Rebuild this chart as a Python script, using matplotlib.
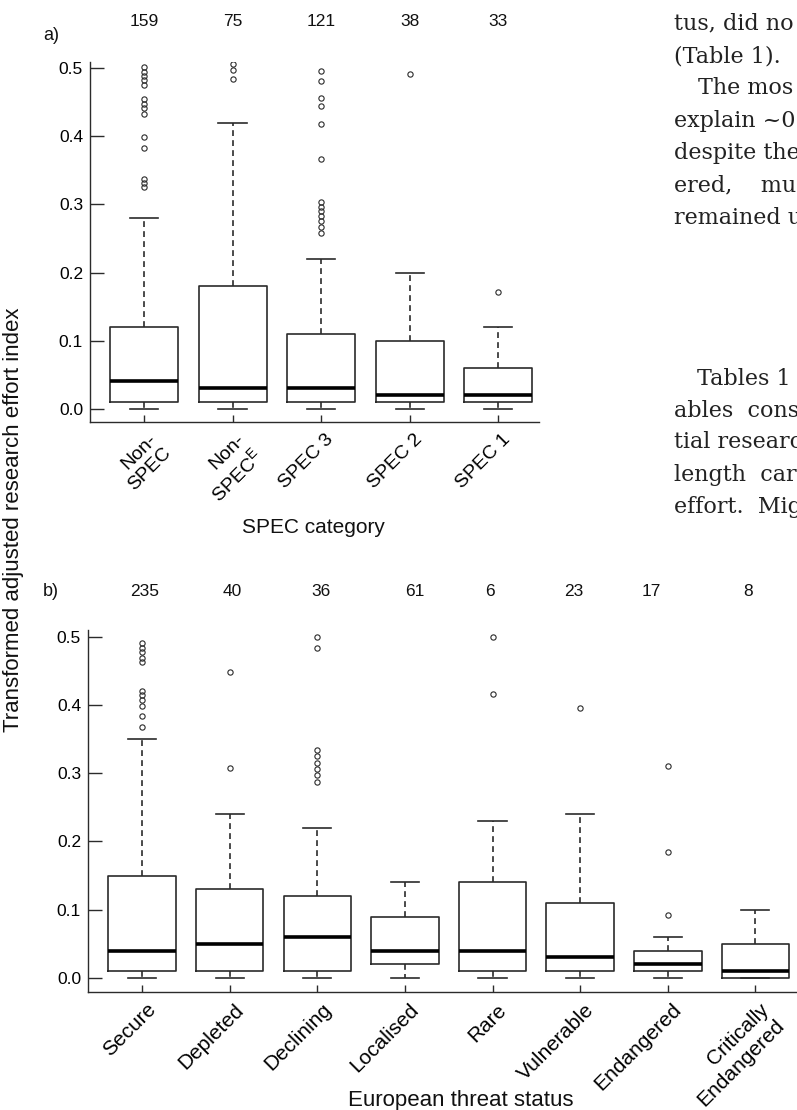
import numpy as np
import matplotlib
matplotlib.use("Agg")
import matplotlib.pyplot as plt
from matplotlib.transforms import ScaledTranslation

plt.rcParams['font.family'] = ['Liberation Sans', 'DejaVu Sans']
plt.rcParams['mathtext.fontset'] = 'custom'
plt.rcParams['mathtext.rm'] = 'Liberation Sans'
plt.rcParams['mathtext.it'] = 'Liberation Sans'

# a) research effort by SPEC category
spec_names = ['Non-\nSPEC', 'Non-\nSPEC$^{\\mathrm{E}}$', 'SPEC 3', 'SPEC 2', 'SPEC 1']
spec_n = [159, 75, 121, 38, 33]
spec_lo = [0.0, 0.0, 0.0, 0.0, 0.0]
spec_q1 = [0.01, 0.01, 0.01, 0.01, 0.01]
spec_med = [0.04, 0.03, 0.03, 0.02, 0.02]
spec_q3 = [0.12, 0.18, 0.11, 0.10, 0.06]
spec_hi = [0.28, 0.42, 0.22, 0.20, 0.12]
spec_out = [
    [0.502, 0.495, 0.489, 0.483, 0.476, 0.455, 0.448, 0.441, 0.433, 0.399, 0.383, 0.338, 0.332, 0.326],
    [0.506, 0.497, 0.484],
    [0.496, 0.482, 0.457, 0.444, 0.418, 0.367, 0.304, 0.297, 0.290, 0.283, 0.276, 0.267, 0.258],
    [0.492],
    [0.172],
]

# b) research effort by European threat status
threat_names = ['Secure', 'Depleted', 'Declining', 'Localised', 'Rare',
                'Vulnerable', 'Endangered', 'Critically\nEndangered']
threat_n = [235, 40, 36, 61, 6, 23, 17, 8]
threat_lo = [0.0, 0.0, 0.0, 0.0, 0.0, 0.0, 0.0, 0.0]
threat_q1 = [0.01, 0.01, 0.01, 0.02, 0.01, 0.01, 0.01, 0.0]
threat_med = [0.04, 0.05, 0.06, 0.04, 0.04, 0.03, 0.02, 0.01]
threat_q3 = [0.15, 0.13, 0.12, 0.09, 0.14, 0.11, 0.04, 0.05]
threat_hi = [0.35, 0.24, 0.22, 0.14, 0.23, 0.24, 0.06, 0.10]
threat_out = [
    [0.491, 0.484, 0.477, 0.469, 0.463, 0.421, 0.414, 0.407, 0.399, 0.384, 0.368],
    [0.448, 0.308],
    [0.499, 0.484, 0.334, 0.325, 0.315, 0.306, 0.297, 0.287],
    [],
    [0.500, 0.416],
    [0.395],
    [0.311, 0.184, 0.092],
    [],
]
# x shift of the sample-size labels in panel b (box units)
threat_n_shift = [0.03, 0.03, 0.04, 0.11, -0.03, -0.07, -0.19, -0.08]

W, H = 797, 1110
fig = plt.figure(figsize=(W / 100, H / 100), dpi=100)
ink = '#2b2b2b'


def px(x, y):
    return x / W, 1 - y / H


def panel(rect, names, n, lo, q1, med, q3, hi, out, xlim, tick_fs):
    ax = fig.add_axes(rect)
    stats = [dict(whislo=a, q1=b, med=c, q3=d, whishi=e, fliers=f)
             for a, b, c, d, e, f in zip(lo, q1, med, q3, hi, out)]
    pos = np.arange(1, len(names) + 1)
    ax.bxp(stats, positions=pos, widths=0.77, capwidths=0.32,
           boxprops=dict(color=ink, lw=1.2),
           medianprops=dict(color='black', lw=2.6, solid_capstyle='butt'),
           whiskerprops=dict(color=ink, lw=1.2, linestyle=(0, (3.5, 2.5))),
           capprops=dict(color=ink, lw=1.2),
           flierprops=dict(marker='o', markersize=3.8, markerfacecolor='none',
                           markeredgecolor=ink, markeredgewidth=0.8))
    ax.set_xlim(*xlim)
    ax.set_ylim(-0.02, 0.51)
    for s in ['top', 'right']:
        ax.spines[s].set_visible(False)
    for s in ['left', 'bottom']:
        ax.spines[s].set_color(ink)
        ax.spines[s].set_linewidth(1.0)
    ax.set_yticks(np.arange(0, 0.51, 0.1))
    ax.set_yticklabels([f'{v:.1f}' for v in np.arange(0, 0.51, 0.1)])
    ax.tick_params(axis='y', direction='in', length=10, width=1.0, color=ink,
                   pad=5, labelsize=12.5)
    ax.tick_params(axis='x', direction='in', length=5, width=1.0, color=ink,
                   pad=6, labelsize=tick_fs)
    ax.set_xticks(pos)
    ax.set_xticklabels(names, rotation=45, ha='right', va='top',
                       rotation_mode='anchor', multialignment='right')
    shift = ScaledTranslation(4 / 100, 0, fig.dpi_scale_trans)
    for lbl in ax.get_xticklabels():
        lbl.set_transform(lbl.get_transform() + shift)
    return ax, pos


ax_a, pos_a = panel([90 / W, 1 - 422.3 / H, 449 / W, 360.8 / H],
                    spec_names, spec_n, spec_lo, spec_q1, spec_med,
                    spec_q3, spec_hi, spec_out, (0.389, 5.46), 14)
for p, n in zip(pos_a, spec_n):
    ax_a.annotate(str(n), (p, px(0, 22)[1]), xycoords=('data', 'figure fraction'),
                  ha='center', va='center', fontsize=12.5, color='#111')

ax_b, pos_b = panel([88 / W, 1 - 991.6 / H, 720 / W, 361.7 / H],
                    threat_names, threat_n, threat_lo, threat_q1, threat_med,
                    threat_q3, threat_hi, threat_out, (0.384, 8.6), 15)
for p, n, s in zip(pos_b, threat_n, threat_n_shift):
    ax_b.annotate(str(n), (p + s, px(0, 591)[1]), xycoords=('data', 'figure fraction'),
                  ha='center', va='center', fontsize=12.5, color='#111')

fig.text(*px(43, 35.5), 'a)', fontsize=13, ha='left', va='center', color='#111')
fig.text(*px(43, 591), 'b)', fontsize=13, ha='left', va='center', color='#111')
fig.text(*px(313, 533), 'SPEC category', fontsize=15, ha='center', va='baseline', color='#111')
fig.text(*px(461, 1106), 'European threat status', fontsize=16, ha='center',
         va='baseline', color='#111')
fig.text(*px(14, 520), 'Transformed adjusted research effort index', fontsize=16,
         rotation=90, ha='center', va='center', color='#111')

# running text of the page beside the figure
page_lines = [
    (674, 23, 'tus, did no'),
    (674, 56, '(Table 1).'),
    (698, 88, 'The mos'),
    (674, 120.5, 'explain ~0'),
    (674, 153, 'despite the'),
    (674, 185.5, 'ered,    muc'),
    (674, 218, 'remained u'),
    (697, 379, 'Tables 1'),
    (674, 411, 'ables  cons'),
    (674, 442, 'tial researc'),
    (674, 474.5, 'length  car'),
    (674, 507, 'effort.  Mig'),
]
for x, y, t in page_lines:
    fig.text(*px(x, y), t, fontsize=16, family='DejaVu Serif', ha='left',
             va='center', color='#222')

fig.savefig('out.png', dpi=100)
